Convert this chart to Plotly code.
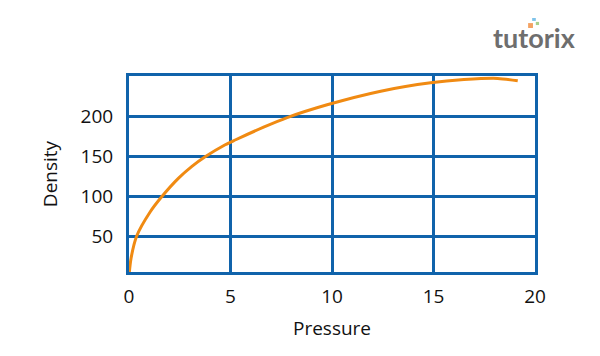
import plotly.graph_objects as go

# Data
pressure = [0, 0.1, 0.38, 1.04, 1.61, 2.43, 3.1, 3.75, 4.74, 5.23, 6.63, 7.79, 9.76, 12.4, 14.86, 16.5, 18.16, 19.15]
density = [0, 22, 50, 80, 99, 122, 137, 149, 164, 170, 186, 198, 214, 231, 241.5, 245.5, 247, 244]

x_ticks = [0, 5, 10, 15, 20]
y_ticks = [50, 100, 150, 200]

GRID = "#1063ab"
ORANGE = "#f08a12"
FONT = "Open Sans"

fig = go.Figure()
fig.add_trace(go.Scatter(
    x=pressure, y=density, mode="lines",
    line=dict(color=ORANGE, width=3, shape="spline", smoothing=0.8),
    hoverinfo="skip", showlegend=False,
))

fig.update_layout(
    width=600, height=356,
    margin=dict(l=121, r=73, t=68, b=92),
    paper_bgcolor="white", plot_bgcolor="white",
    font=dict(family=FONT, size=19, color="#111111"),
    xaxis=dict(
        range=[0, 20], tickvals=x_ticks, ticktext=[str(v) for v in x_ticks],
        showgrid=True, gridcolor=GRID, gridwidth=3,
        showline=True, linecolor=GRID, linewidth=3, mirror=True,
        zeroline=False, ticks="", ticklabelstandoff=5,
        title=dict(text="Pressure", standoff=14, font=dict(size=19)),
    ),
    yaxis=dict(
        range=[5, 250], tickvals=y_ticks, ticktext=[str(v) for v in y_ticks],
        showgrid=True, gridcolor=GRID, gridwidth=3,
        showline=True, linecolor=GRID, linewidth=3, mirror=True,
        zeroline=False, ticks="", ticklabelstandoff=9,
        title=dict(text="Density", standoff=18, font=dict(size=19)),
    ),
)

# Logo
fig.add_annotation(
    xref="paper", yref="paper", x=1.106, y=1.194, xanchor="right", yanchor="middle",
    text="<b>tutorix</b>", showarrow=False,
    font=dict(family="Lato", size=27, color="#6e6e6e"),
)
for (x0, x1, y0, y1, col) in [(0.983, 0.995, 1.245, 1.270, "#f4a263"),
                              (0.993, 1.002, 1.281, 1.296, "#7ec3ea"),
                              (1.002, 1.010, 1.260, 1.276, "#a8d08d")]:
    fig.add_shape(type="rect", xref="paper", yref="paper",
                  x0=x0, x1=x1, y0=y0, y1=y1,
                  fillcolor=col, line=dict(width=0))

fig.write_html("out.html")
